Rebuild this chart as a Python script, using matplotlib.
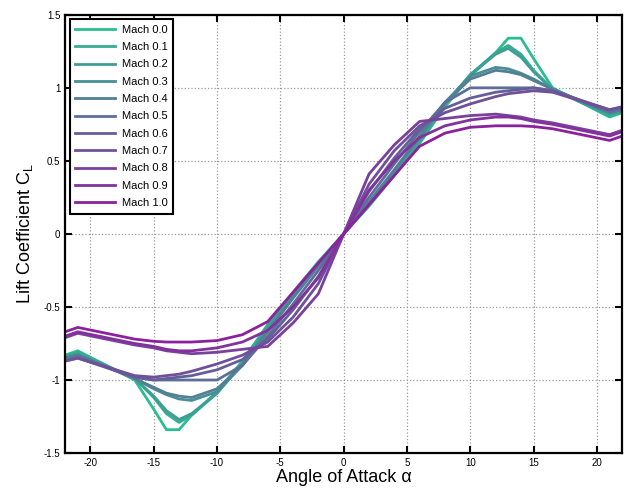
import numpy as np
import matplotlib
matplotlib.use("Agg")
import matplotlib.pyplot as plt

plt.rcParams['font.family'] = ['Liberation Sans', 'DejaVu Sans']
plt.rcParams['axes.unicode_minus'] = False

# 攻角
alpha = [-22, -21, -16.5, -15, -14, -13, -12, -10, -8, -6, -4, -2, 0,
         2, 4, 6, 8, 10, 12, 13, 14, 15, 16.5, 21, 22]

# 各马赫数升力系数
cl_m00 = [-0.83, -0.80, -1.00, -1.20, -1.34, -1.34, -1.24, -1.08, -0.87, -0.62, -0.40, -0.19, 0,
          0.19, 0.40, 0.62, 0.87, 1.08, 1.24, 1.34, 1.34, 1.20, 1.00, 0.80, 0.83]
cl_m01 = [-0.84, -0.81, -0.99, -1.12, -1.23, -1.29, -1.24, -1.09, -0.88, -0.63, -0.41, -0.20, 0,
          0.20, 0.41, 0.63, 0.88, 1.09, 1.24, 1.29, 1.23, 1.12, 0.99, 0.81, 0.84]
cl_m02 = [-0.84, -0.82, -0.99, -1.11, -1.21, -1.27, -1.23, -1.09, -0.89, -0.64, -0.42, -0.20, 0,
          0.20, 0.42, 0.64, 0.89, 1.09, 1.23, 1.27, 1.21, 1.11, 0.99, 0.82, 0.84]
cl_m03 = [-0.85, -0.83, -0.99, -1.06, -1.10, -1.13, -1.14, -1.08, -0.90, -0.66, -0.43, -0.21, 0,
          0.21, 0.43, 0.66, 0.90, 1.08, 1.14, 1.13, 1.10, 1.06, 0.99, 0.83, 0.85]
cl_m04 = [-0.85, -0.83, -0.99, -1.05, -1.09, -1.11, -1.12, -1.06, -0.90, -0.67, -0.44, -0.22, 0,
          0.22, 0.44, 0.67, 0.90, 1.06, 1.12, 1.11, 1.09, 1.05, 0.99, 0.83, 0.85]
cl_m05 = [-0.86, -0.84, -0.98, -1.00, -1.00, -1.00, -1.00, -1.00, -0.90, -0.70, -0.48, -0.25, 0,
          0.25, 0.48, 0.70, 0.90, 1.00, 1.00, 1.00, 1.00, 1.00, 0.98, 0.84, 0.86]
cl_m06 = [-0.87, -0.85, -0.98, -1.00, -0.99, -0.98, -0.97, -0.93, -0.86, -0.72, -0.52, -0.29, 0,
          0.29, 0.52, 0.72, 0.86, 0.93, 0.97, 0.98, 0.99, 1.00, 0.98, 0.85, 0.87]
cl_m07 = [-0.87, -0.85, -0.97, -0.98, -0.97, -0.96, -0.94, -0.89, -0.83, -0.74, -0.57, -0.34, 0,
          0.34, 0.57, 0.74, 0.83, 0.89, 0.94, 0.96, 0.97, 0.98, 0.97, 0.85, 0.87]
cl_m08 = [-0.71, -0.68, -0.76, -0.78, -0.80, -0.81, -0.82, -0.81, -0.79, -0.77, -0.61, -0.41, 0,
          0.41, 0.61, 0.77, 0.79, 0.81, 0.82, 0.81, 0.80, 0.78, 0.76, 0.68, 0.71]
cl_m09 = [-0.70, -0.67, -0.75, -0.77, -0.79, -0.80, -0.80, -0.78, -0.74, -0.66, -0.50, -0.30, 0,
          0.30, 0.50, 0.66, 0.74, 0.78, 0.80, 0.80, 0.79, 0.77, 0.75, 0.67, 0.70]
cl_m10 = [-0.67, -0.64, -0.72, -0.735, -0.74, -0.74, -0.74, -0.73, -0.69, -0.60, -0.40, -0.20, 0,
          0.20, 0.40, 0.60, 0.69, 0.73, 0.74, 0.74, 0.74, 0.735, 0.72, 0.64, 0.67]

labels = ["Mach 0.0", "Mach 0.1", "Mach 0.2", "Mach 0.3", "Mach 0.4", "Mach 0.5",
          "Mach 0.6", "Mach 0.7", "Mach 0.8", "Mach 0.9", "Mach 1.0"]
series = [cl_m00, cl_m01, cl_m02, cl_m03, cl_m04, cl_m05,
          cl_m06, cl_m07, cl_m08, cl_m09, cl_m10]

# 颜色由绿到紫渐变
c0 = np.array([0.17, 0.74, 0.57])
c1 = np.array([0.55, 0.13, 0.62])

fig = plt.figure(figsize=(6.26, 4.93), dpi=100)
ax = fig.add_axes([0.104, 0.081, 0.89, 0.889])

for i, (lab, cl) in enumerate(zip(labels, series)):
    t = i / (len(series) - 1)
    ax.plot(alpha, cl, color=c0 + (c1 - c0) * t, linewidth=2, label=lab)

ax.set_xlim(-22, 22)
ax.set_ylim(-1.5, 1.5)
ax.set_xticks(np.arange(-20, 21, 5))
ax.set_yticks([-1.5, -1, -0.5, 0, 0.5, 1, 1.5])
ax.set_yticklabels(["-1.5", "-1", "-0.5", "0", "0.5", "1", "1.5"])
ax.grid(True, linestyle=':', color='#999999', linewidth=0.9)
ax.tick_params(direction='in', top=True, right=True, length=5, width=1.5, labelsize=7)
for s in ax.spines.values():
    s.set_linewidth(1.6)

ax.set_xlabel("Angle of Attack α", fontsize=13, labelpad=1)
ax.set_ylabel(r"Lift Coefficient C$_\mathregular{L}$", fontsize=13, labelpad=6)

leg = ax.legend(loc='upper left', fontsize=8, handlelength=3.6, labelspacing=0.66,
                handletextpad=0.6, fancybox=False, framealpha=1, edgecolor='black',
                borderaxespad=0.4, borderpad=0.5)
leg.get_frame().set_linewidth(1.5)

fig.savefig("out.png", dpi=100)
